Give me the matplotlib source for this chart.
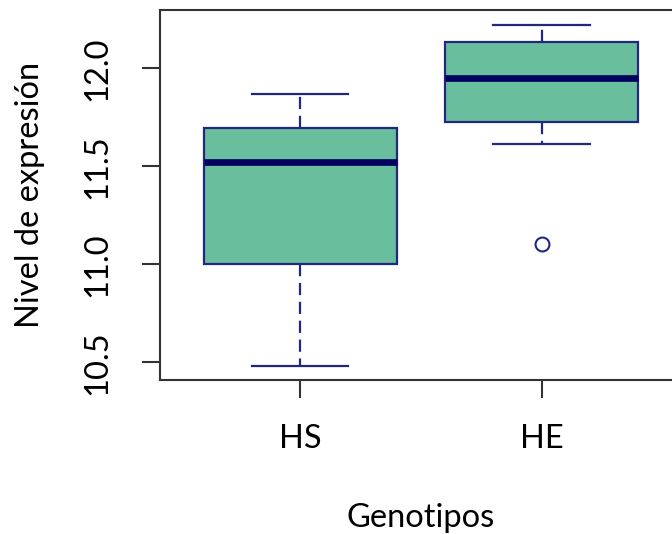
import matplotlib
matplotlib.use("Agg")
import matplotlib.pyplot as plt

plt.rcParams['font.family'] = ['Lato', 'DejaVu Sans']

categories = ["HS", "HE"]
whislo = [10.48, 11.612]
q1 = [11.0, 11.724]
med = [11.52, 11.949]
q3 = [11.694, 12.133]
whishi = [11.867, 12.224]
fliers = [[], [11.102]]
yticks = [10.5, 11.0, 11.5, 12.0]

fill = '#69BE9D'
edge = '#22287F'
medc = '#00005E'

fig = plt.figure(figsize=(6.72, 5.34), dpi=100)
ax = fig.add_axes([160/672, 154/534, 522/672, 370/534])

stats = []
for i, c in enumerate(categories):
    stats.append(dict(label=c, whislo=whislo[i], q1=q1[i], med=med[i],
                      q3=q3[i], whishi=whishi[i], fliers=fliers[i]))

ax.bxp(stats, positions=[1, 2], widths=0.8, patch_artist=True,
       boxprops=dict(facecolor=fill, edgecolor=edge, linewidth=1.6),
       medianprops=dict(color=medc, linewidth=4.8, solid_capstyle='butt'),
       whiskerprops=dict(color=edge, linewidth=1.6, linestyle=(0, (5.5, 3))),
       capprops=dict(color=edge, linewidth=1.6),
       flierprops=dict(marker='o', markerfacecolor='none', markeredgecolor=edge,
                       markersize=10, markeredgewidth=1.5),
       capwidths=0.4)

fs = 23.5
ax.set_xlim(0.42, 2.58)
ax.set_ylim(10.41, 12.298)
ax.set_yticks(yticks)
ax.set_yticklabels([f"{v:.1f}" for v in yticks], rotation=90, va='center')
ax.set_xticks([1, 2])
ax.set_xticklabels(categories)
ax.tick_params(axis='both', labelsize=fs, length=13, width=1.5, color='#333333')
ax.tick_params(axis='x', pad=19)
ax.tick_params(axis='y', pad=21)
for s in ax.spines.values():
    s.set_color('#333333')
    s.set_linewidth(1.5)

ax.set_xlabel("Genotipos", fontsize=fs, va='center')
ax.xaxis.set_label_coords(0.5, (380 - 518) / 370)
ax.set_ylabel("Nivel de expresión", fontsize=fs, va='center')
ax.yaxis.set_label_coords((30 - 160) / 522, 0.5)

fig.savefig("out.png", dpi=100)
